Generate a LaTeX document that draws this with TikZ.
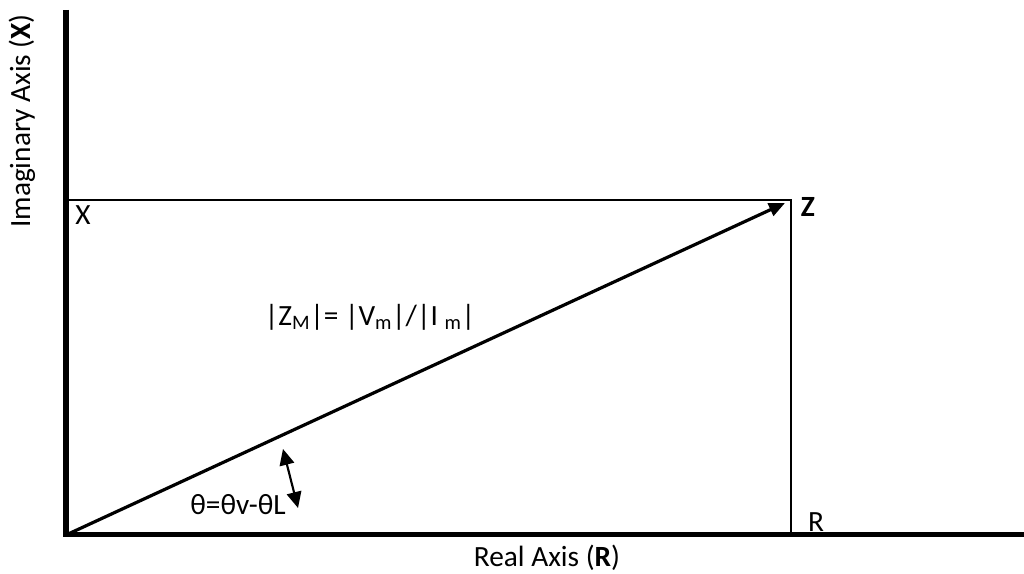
\documentclass[tikz,border=0pt]{standalone}
\usepackage{fontspec}
\setmainfont{Carlito}
\usetikzlibrary{arrows.meta}

\begin{document}
\begin{tikzpicture}[x=0.75pt,y=0.75pt,
  axisline/.style={line width=3.75pt},
  boxline/.style={line width=1.5pt},
  vecline/.style={line width=2.4pt,-{Triangle[length=12pt,width=10pt]}},
  angline/.style={line width=1.6pt,{Triangle[length=12pt,width=11pt]}-{Triangle[length=12pt,width=11pt]}},
  lbl/.style={font=\fontsize{22}{26}\selectfont,inner sep=0pt}]
  \useasboundingbox (-66,-39) rectangle (958,535);
  \coordinate (o) at (0,0);
  \coordinate (ytop) at (0,525);
  \coordinate (xend) at (962,0);
  \coordinate (xc) at (0,335);
  \coordinate (zc) at (725,335);
  \coordinate (rc) at (725,0);
  \coordinate (ztip) at (719,332);
  \coordinate (a1) at (217,86);
  \coordinate (a2) at (232,27);
  % rectangle and vector
  \draw[boxline] (xc) -- (zc) -- (rc);
  \draw[vecline] (o) -- (ztip);
  \draw[angline] (a1) -- (a2);
  % axes
  \draw[axisline] (ytop) -- (o) -- (xend);
  % labels
  \node[lbl] (xlbl) at (17,320) {X};
  \node[lbl] (zlbl) at (742,328) {\textbf{Z}};
  \node[lbl] (rlbl) at (750,13) {R};
  \node[lbl] (zmag) at (304,218) {|Z\textsubscript{M}|= |V\textsubscript{m}|/|I \textsubscript{m}|};
  \node[lbl] (theta) at (172,30) {θ=θv-θL};
  \node[lbl] (realax) at (481,-23) {Real Axis (\textbf{R})};
  \node[lbl,rotate=90] (imagax) at (-44,414) {Imaginary Axis (\textbf{X})};
\end{tikzpicture}
\end{document}
